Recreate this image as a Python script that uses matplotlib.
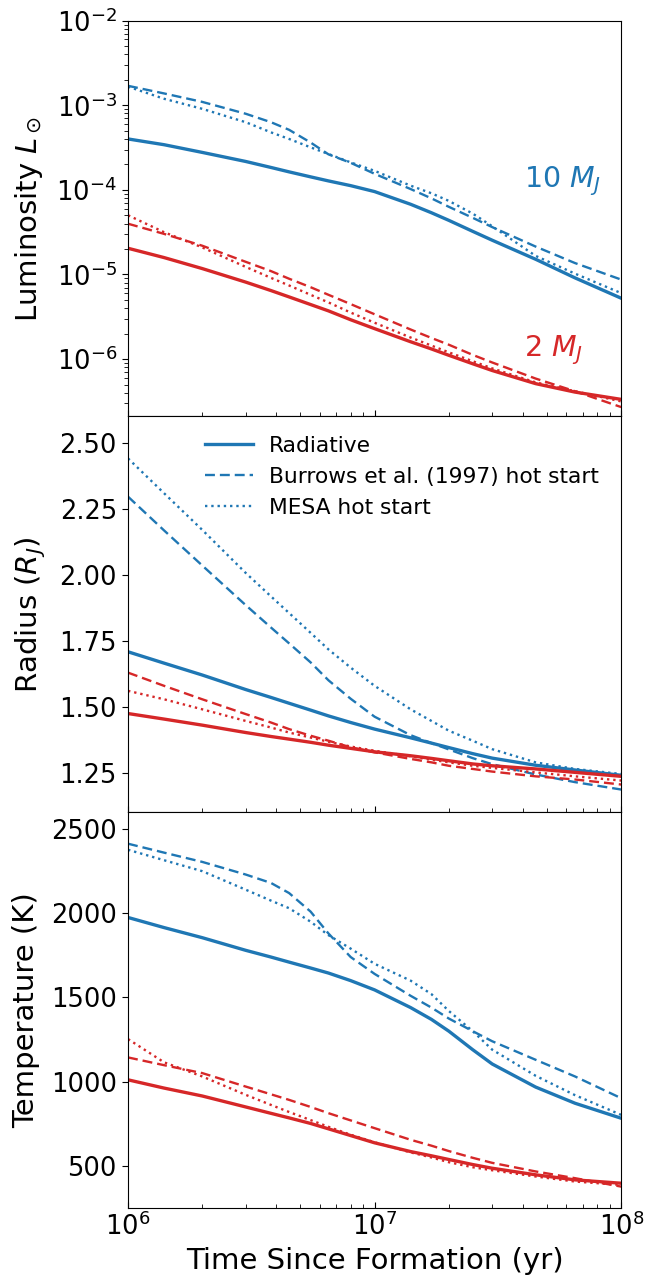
import matplotlib
matplotlib.use("Agg")
import matplotlib.pyplot as plt
import numpy as np
from matplotlib.ticker import MultipleLocator, FormatStrFormatter

# ---- data ----
time_yr = [1.0e6, 1.4e6, 2.0e6, 3.0e6, 3.8e6, 4.5e6, 5.5e6, 6.5e6, 8.0e6, 1.0e7,
           1.4e7, 1.7e7, 2.0e7, 2.5e7, 3.0e7, 4.5e7, 6.5e7, 1.0e8]

# log10 luminosity (L_sun)
logL_10_rad = [-3.398, -3.466, -3.557, -3.664, -3.735, -3.787, -3.846, -3.894, -3.950, -4.020,
               -4.170, -4.27, -4.360, -4.490, -4.595, -4.820, -5.040, -5.28]
logL_10_bur = [-2.77, -2.86, -2.96, -3.10, -3.20, -3.29, -3.44, -3.58, -3.68, -3.81,
               -3.99, -4.10, -4.20, -4.33, -4.44, -4.67, -4.865, -5.06]
logL_10_mesa = [-2.78, -2.923, -3.042, -3.20, -3.32, -3.398, -3.497, -3.576, -3.675, -3.775,
                -3.95, -4.04, -4.13, -4.28, -4.43, -4.78, -4.99, -5.22]
logL_2_rad = [-4.69, -4.80, -4.93, -5.09, -5.19, -5.265, -5.355, -5.43, -5.535, -5.64,
              -5.795, -5.88, -5.955, -6.055, -6.135, -6.29, -6.39, -6.476]
logL_2_bur = [-4.40, -4.52, -4.66, -4.85, -4.96, -5.05, -5.15, -5.24, -5.35, -5.47,
              -5.65, -5.75, -5.83, -5.95, -6.04, -6.23, -6.38, -6.567]
logL_2_mesa = [-4.30, -4.50, -4.68, -4.91, -5.04, -5.13, -5.24, -5.33, -5.45, -5.57,
               -5.745, -5.84, -5.92, -6.025, -6.11, -6.275, -6.38, -6.50]

# radius (R_J)
R_10_rad = [1.708, 1.665, 1.620, 1.565, 1.535, 1.513, 1.487, 1.465, 1.440, 1.415,
            1.382, 1.362, 1.345, 1.322, 1.305, 1.278, 1.260, 1.240]
R_10_bur = [2.296, 2.168, 2.035, 1.885, 1.800, 1.740, 1.668, 1.600, 1.530, 1.462,
            1.392, 1.362, 1.338, 1.305, 1.282, 1.243, 1.214, 1.186]
R_10_mesa = [2.441, 2.309, 2.170, 2.007, 1.918, 1.855, 1.780, 1.717, 1.648, 1.579,
             1.490, 1.446, 1.409, 1.371, 1.339, 1.289, 1.264, 1.245]
R_2_rad = [1.474, 1.453, 1.430, 1.402, 1.387, 1.377, 1.365, 1.354, 1.342, 1.329,
           1.314, 1.304, 1.295, 1.283, 1.276, 1.264, 1.251, 1.236]
R_2_bur = [1.629, 1.579, 1.528, 1.472, 1.440, 1.415, 1.390, 1.371, 1.346, 1.327,
           1.302, 1.289, 1.276, 1.264, 1.254, 1.236, 1.224, 1.205]
R_2_mesa = [1.560, 1.528, 1.490, 1.446, 1.421, 1.402, 1.383, 1.367, 1.349, 1.333,
            1.312, 1.299, 1.289, 1.276, 1.268, 1.251, 1.236, 1.220]

# temperature (K)
T_10_rad = [1975, 1915, 1855, 1780, 1740, 1710, 1675, 1645, 1600, 1545,
            1440, 1370, 1300, 1190, 1105, 968, 872, 783]
T_10_bur = [2413, 2360, 2305, 2230, 2180, 2120, 2010, 1880, 1740, 1640,
            1510, 1440, 1375, 1300, 1240, 1130, 1031, 902]
T_10_mesa = [2377, 2315, 2250, 2140, 2075, 2030, 1950, 1870, 1790, 1700,
             1600, 1520, 1420, 1300, 1190, 1035, 920, 803]
T_2_rad = [1011, 962, 915, 850, 812, 785, 752, 720, 680, 637,
           585, 560, 538, 508, 486, 447, 417, 397]
T_2_bur = [1144, 1098, 1051, 971, 925, 892, 850, 813, 770, 724,
           655, 620, 588, 548, 518, 467, 427, 377]
T_2_mesa = [1253, 1115, 1031, 922, 862, 820, 772, 732, 685, 640,
            580, 550, 522, 492, 474, 437, 407, 387]

legend_labels = ["Radiative", "Burrows et al. (1997) hot start", "MESA hot start"]
mass_labels = [r"10 $M_J$", r"2 $M_J$"]

blue = "#1f77b4"
red = "#d62728"

fig = plt.figure(figsize=(6.45, 12.84), dpi=100)
gs = fig.add_gridspec(3, 1, left=0.1985, right=0.963, top=0.9839, bottom=0.0592, hspace=0)
axL = fig.add_subplot(gs[0])
axR = fig.add_subplot(gs[1], sharex=axL)
axT = fig.add_subplot(gs[2], sharex=axL)

t = np.array(time_yr)
lw_s, lw_d = 2.4, 1.7


def draw(ax, s10, d10, m10, s2, d2, m2):
    h1, = ax.plot(t, s10, color=blue, lw=lw_s, ls="-")
    h2, = ax.plot(t, d10, color=blue, lw=lw_d, ls="--", dashes=(4.2, 2.1))
    h3, = ax.plot(t, m10, color=blue, lw=lw_d, ls=":")
    ax.plot(t, s2, color=red, lw=lw_s, ls="-")
    ax.plot(t, d2, color=red, lw=lw_d, ls="--", dashes=(4.2, 2.1))
    ax.plot(t, m2, color=red, lw=lw_d, ls=":")
    return [h1, h2, h3]


draw(axL, 10 ** np.array(logL_10_rad), 10 ** np.array(logL_10_bur), 10 ** np.array(logL_10_mesa),
     10 ** np.array(logL_2_rad), 10 ** np.array(logL_2_bur), 10 ** np.array(logL_2_mesa))
handles = draw(axR, R_10_rad, R_10_bur, R_10_mesa, R_2_rad, R_2_bur, R_2_mesa)
draw(axT, T_10_rad, T_10_bur, T_10_mesa, T_2_rad, T_2_bur, T_2_mesa)

axL.set_xscale("log")
axL.set_xlim(1e6, 1e8)
axL.set_yscale("log")
axL.set_ylim(2.1e-7, 1e-2)
axR.set_ylim(1.1, 2.6)
axT.set_ylim(250, 2600)
axR.yaxis.set_major_locator(MultipleLocator(0.25))
axR.yaxis.set_major_formatter(FormatStrFormatter("%.2f"))
axT.yaxis.set_major_locator(MultipleLocator(500))

tick_fs = 18.5
label_fs = 21
for ax in (axL, axR, axT):
    ax.tick_params(axis="x", which="both", direction="in")
    ax.tick_params(axis="y", which="both", direction="out")
    ax.tick_params(axis="both", which="major", labelsize=tick_fs, length=4.5)
    ax.tick_params(axis="both", which="minor", length=2.8)
for ax in (axL, axR):
    ax.tick_params(axis="x", labelbottom=False)

axL.set_ylabel(r"Luminosity $L_\odot$", fontsize=label_fs, labelpad=8)
axR.set_ylabel(r"Radius ($R_J$)", fontsize=label_fs, labelpad=8)
axT.set_ylabel("Temperature (K)", fontsize=label_fs, labelpad=8)
axT.set_xlabel("Time Since Formation (yr)", fontsize=label_fs)

axL.text(4.05e7, 10 ** -3.894, mass_labels[0], color=blue, fontsize=20.5, ha="left", va="center")
axL.text(4.05e7, 10 ** -5.89, mass_labels[1], color=red, fontsize=20.5, ha="left", va="center")

axR.legend(handles, legend_labels, loc="upper left", bbox_to_anchor=(0.116, 1.0),
           frameon=False, fontsize=15.7, handlelength=2.2, handletextpad=0.73)

fig.savefig("out.png", dpi=100)
